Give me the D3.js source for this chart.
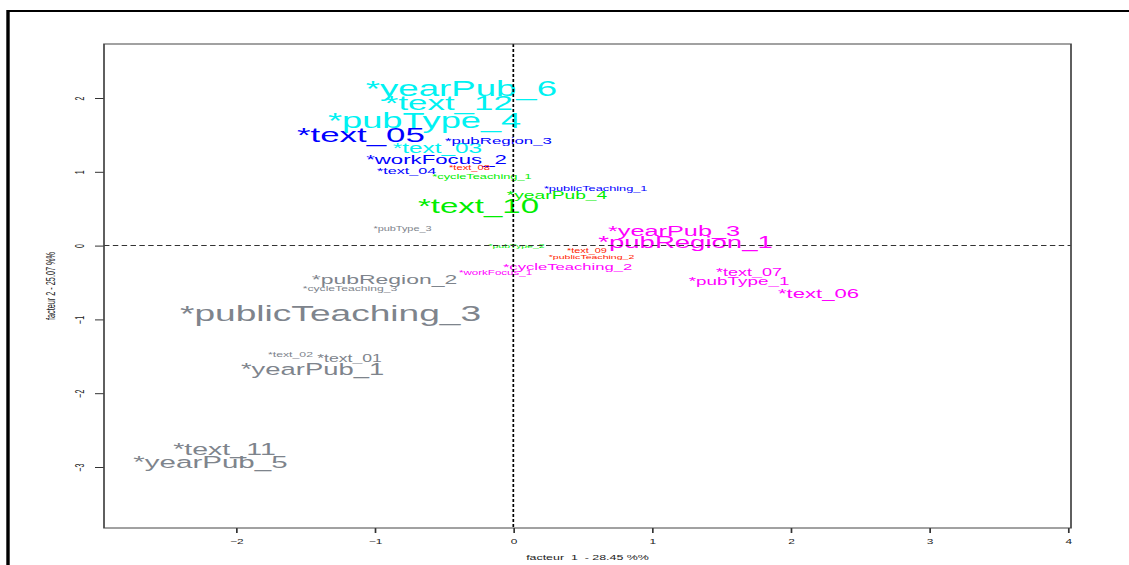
<!DOCTYPE html>
<html>
<head>
<meta charset="utf-8">
<script src="https://cdn.jsdelivr.net/npm/d3@7"></script>
<style>
    body { margin: 0; background: #fff; }
    text { font-family: "Liberation Sans", Arial, sans-serif; }
</style>
</head>
<body>
<svg id="factor-map"></svg>
<script>
// modalities plotted on the first factorial plane
const labels = [
    "*yearPub_6", "*text_12", "*pubType_4", "*text_03",
    "*text_05", "*pubRegion_3", "*workFocus_2", "*text_04", "*publicTeaching_1",
    "*text_08", "*text_09", "*publicTeaching_2",
    "*cycleTeaching_1", "*yearPub_4", "*text_10", "*pubType_2",
    "*pubType_3", "*pubRegion_2", "*cycleTeaching_3", "*publicTeaching_3",
    "*text_02", "*text_01", "*yearPub_1", "*text_11", "*yearPub_5",
    "*cycleTeaching_2", "*workFocus_1", "*yearPub_3", "*pubRegion_1",
    "*text_07", "*pubType_1", "*text_06"
];
const factor1 = [
    -0.374, -0.465, -0.640, -0.547,
    -1.099, -0.107, -0.554, -0.770, 0.594,
    -0.316, 0.531, 0.564,
    -0.226, 0.315, -0.251, 0.023,
    -0.799, -0.929, -1.178, -1.318,
    -1.607, -1.181, -1.448, -2.083, -2.184,
    0.391, -0.128, 1.159, 1.242,
    1.700, 1.628, 2.201
];
const factor2 = [
    2.131, 1.936, 1.700, 1.320,
    1.500, 1.430, 1.170, 1.010, 0.780,
    1.060, -0.069, -0.150,
    0.934, 0.680, 0.537, -0.005,
    0.225, -0.453, -0.575, -0.913,
    -1.480, -1.523, -1.672, -2.756, -2.932,
    -0.286, -0.371, 0.202, 0.049,
    -0.354, -0.480, -0.642
];
// label expansion (cex) used by the original plot
const cex = [
    2.95, 2.81, 2.92, 1.96,
    2.81, 1.36, 1.79, 1.30, 1.03,
    0.90, 0.88, 0.85,
    1.03, 1.55, 2.66, 0.85,
    0.88, 1.85, 0.98, 2.99,
    0.99, 1.42, 2.21, 2.30, 2.38,
    1.34, 0.93, 2.04, 2.22,
    1.45, 1.52, 1.78
];
const cluster = [
    6, 6, 6, 6,
    5, 5, 5, 5, 5,
    3, 3, 3,
    4, 4, 4, 4,
    1, 1, 1, 1,
    1, 1, 1, 1, 1,
    2, 2, 2, 2,
    2, 2, 2
];
const xTicks = [-2, -1, 0, 1, 2, 3, 4];
const yTicks = [-3, -2, -1, 0, 1, 2];
const xTitle = "facteur  1  - 28.45 %%";
const yTitle = "facteur 2 - 25.07 %%";

class FactorMap {
    constructor() {
        this.width = 1129;
        this.height = 565;
        // the picture is stretched horizontally, so draw in narrower units
        this.stretch = 1.7;
        this.box = { left: 104, right: 1071, top: 44, bottom: 528 };
        this.xDomain = [-2.952, 4.022];
        this.yDomain = [-3.827, 2.732];
    }

    draw() {
        let s = this.stretch;
        let svg = d3.select("#factor-map")
            .attr("width", this.width)
            .attr("height", this.height)
            .attr("viewBox", `0 0 ${this.width / s} ${this.height}`)
            .attr("preserveAspectRatio", "none");

        let x = d3.scaleLinear()
            .domain(this.xDomain)
            .range([this.box.left / s, this.box.right / s]);
        let y = d3.scaleLinear()
            .domain(this.yDomain)
            .range([this.box.bottom, this.box.top]);
        let size = d3.scaleLinear().domain([0, 1]).range([0, 7.3]);
        let color = d3.scaleOrdinal()
            .domain([1, 2, 3, 4, 5, 6])
            .range(["#7e848c", "#ff00ff", "#ff2200", "#00ee00", "#0000ff", "#00f2f2"]);

        // outer frame
        svg.append("rect")
            .attr("x", 8 / s).attr("y", 11)
            .attr("width", this.width).attr("height", this.height)
            .attr("fill", "none")
            .attr("stroke", "#000")
            .attr("stroke-width", 2);

        // axes
        let xAxis = svg.append("g")
            .attr("transform", `translate(0,${this.box.bottom})`)
            .call(d3.axisBottom(x).tickValues(xTicks).tickSize(5).tickPadding(6).tickFormat(d3.format("d")));
        xAxis.select(".domain").remove();

        let yAxis = svg.append("g")
            .attr("transform", `translate(${this.box.left / s},0)`)
            .call(d3.axisLeft(y).tickValues(yTicks).tickSize(9 / s).tickFormat(d3.format("d")));
        yAxis.select(".domain").remove();
        yAxis.selectAll(".tick text")
            .attr("x", null).attr("dy", null)
            .attr("transform", `translate(${-23.5 / s + 2.2},0) rotate(-90)`)
            .attr("text-anchor", "middle");

        svg.selectAll(".tick line").attr("stroke", "#333");
        svg.selectAll(".tick text")
            .attr("fill", "#222")
            .style("font-size", "7px")
            .style("font-family", "'Liberation Sans', Arial, sans-serif");

        svg.append("text")
            .attr("x", (this.box.left + this.box.right) / 2 / s)
            .attr("y", 560)
            .attr("text-anchor", "middle")
            .attr("fill", "#222")
            .style("font-size", "7.3px")
            .style("white-space", "pre")
            .text(xTitle);

        svg.append("text")
            .attr("transform", `translate(${50.5 / s + 2.6},${(this.box.top + this.box.bottom) / 2}) rotate(-90)`)
            .attr("text-anchor", "middle")
            .attr("fill", "#222")
            .style("font-size", "7.3px")
            .text(yTitle);

        // modality labels
        let points = labels.map((d, i) => ({
            label: d, f1: factor1[i], f2: factor2[i], cex: cex[i], cluster: cluster[i]
        }));
        svg.append("g")
            .selectAll("text")
            .data(points)
            .join("text")
            .attr("x", d => x(d.f1))
            .attr("y", d => y(d.f2))
            .attr("dy", "0.36em")
            .attr("text-anchor", "middle")
            .attr("fill", d => color(d.cluster))
            .style("font-size", d => size(d.cex) + "px")
            .text(d => d.label);

        // origin lines
        svg.append("line")
            .attr("x1", x(0)).attr("x2", x(0))
            .attr("y1", this.box.top).attr("y2", this.box.bottom)
            .attr("stroke", "#000")
            .attr("stroke-dasharray", "3,2");
        svg.append("line")
            .attr("x1", this.box.left / s).attr("x2", this.box.right / s)
            .attr("y1", y(0)).attr("y2", y(0))
            .attr("stroke", "#333")
            .attr("stroke-dasharray", "3.2,2");

        // plot box
        svg.append("rect")
            .attr("x", this.box.left / s).attr("y", this.box.top)
            .attr("width", (this.box.right - this.box.left) / s)
            .attr("height", this.box.bottom - this.box.top)
            .attr("fill", "none")
            .attr("stroke", "#444")
            .attr("stroke-width", 1);
    }
}

new FactorMap().draw();
</script>
</body>
</html>
